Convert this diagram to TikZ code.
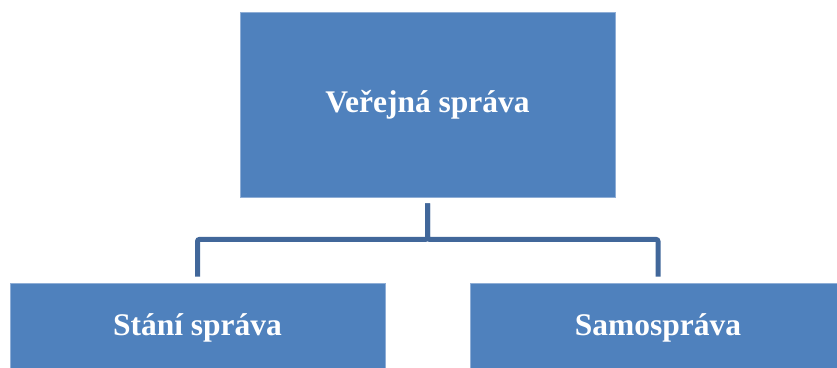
\documentclass[tikz,border=0pt]{standalone}
\usepackage{fontspec}
\setmainfont{Liberation Serif}
\definecolor{boxfill}{HTML}{4F81BD}
\definecolor{boxline}{HTML}{8FAED6}
\definecolor{connline}{HTML}{41679A}
\begin{document}
\begin{tikzpicture}[x=1pt,y=-1pt,
  orgbox/.style={rectangle, fill=boxfill, draw=boxline, line width=0.8pt,
    text=white, font=\fontsize{31.5}{36}\selectfont\bfseries,
    inner sep=0pt, anchor=center},
  conn/.style={draw=connline, line width=5pt, rounded corners=2pt}]
\useasboundingbox (0,0) rectangle (837,367);
\node[orgbox, minimum width=375pt, minimum height=185pt] (top) at (427.5,104.5) {Veřejná správa};
\node[orgbox, minimum width=375pt, minimum height=90pt] (left) at (197.5,328) {Stání správa};
\node[orgbox, minimum width=376pt, minimum height=90pt] (right) at (658,328) {Samospráva};
\draw[conn, shorten <=6pt, shorten >=6pt] (top.south) -- ++(0,42) -| (left.north);
\draw[conn, shorten <=6pt, shorten >=6pt] (top.south) -- ++(0,42) -| (right.north);
\end{tikzpicture}
\end{document}
